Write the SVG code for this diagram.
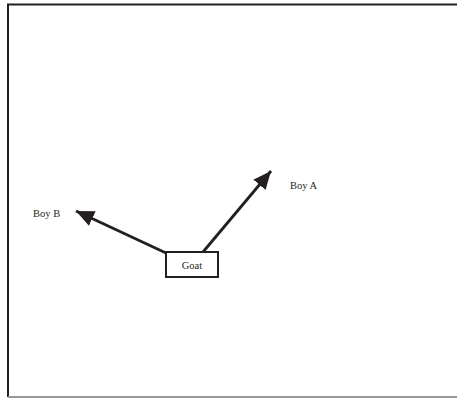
<svg xmlns="http://www.w3.org/2000/svg" width="457" height="398" viewBox="0 0 457 398">
<style>
.lbl{font-family:"Liberation Serif","Times New Roman",serif;font-size:10.5px;fill:#231f20}
.con{stroke:#231f20;stroke-width:2.8;fill:none}
</style>
<defs>
<marker id="ah" markerUnits="userSpaceOnUse" markerWidth="20" markerHeight="16" refX="18" refY="8" orient="auto">
<path d="M0,0 L18,8 L0,16 Z" fill="#231f20"/>
</marker>
</defs>
<rect x="0" y="0" width="457" height="398" fill="#fff"/>
<path d="M8,397 L8,4.5 L460,4.5" stroke="#231f20" stroke-width="2" fill="none"/>
<line x1="8" y1="397" x2="460" y2="397" stroke="#999" stroke-width="2"/>
<g id="connectors">
<line class="con" x1="203" y1="252" x2="271" y2="171" marker-end="url(#ah)"/>
<line class="con" x1="166" y1="253" x2="76" y2="211" marker-end="url(#ah)"/>
</g>
<g id="goat">
<rect x="166" y="252" width="52" height="25" fill="#fff" stroke="#231f20" stroke-width="2"/>
<text class="lbl" x="192" y="268.5" text-anchor="middle">Goat</text>
</g>
<g id="boyA">
<text class="lbl" x="290" y="189">Boy A</text>
</g>
<g id="boyB">
<text class="lbl" x="33" y="217">Boy B</text>
</g>
</svg>
